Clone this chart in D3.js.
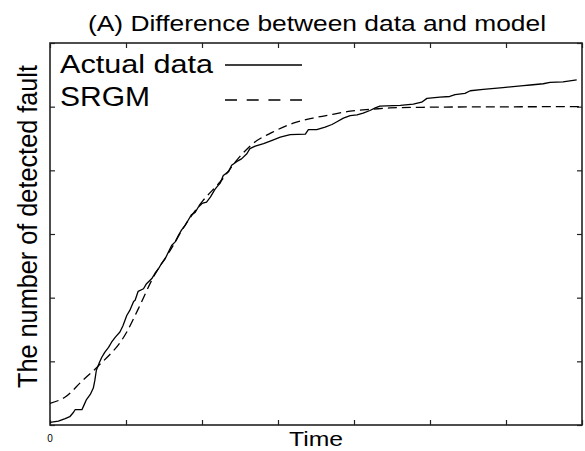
<!DOCTYPE html>
<html>
<head>
<meta charset="utf-8">
<script src="https://cdn.jsdelivr.net/npm/d3@7/dist/d3.min.js"></script>
<style>
  html, body { margin: 0; padding: 0; background: #fff; }
  svg { display: block; font-family: "Liberation Sans", Arial, sans-serif; }
</style>
</head>
<body>
<svg id="chart" width="585" height="451"></svg>
<script>
// Cumulative number of detected faults observed over time
const actualTime = [0, 1.1, 2.0, 2.6, 3.1, 3.3, 4.2, 4.5, 4.8, 5.3, 5.7, 5.9, 6.1, 6.5, 6.8, 7.2, 7.7, 8.1, 8.6, 9.2,
  9.6, 10.1, 10.5, 11.0, 11.2, 11.6, 12.3, 12.7, 13.4, 13.8, 14.3, 14.7, 15.1, 15.6, 16.0, 16.5, 16.9, 17.3, 17.8, 18.2,
  18.6, 19.1, 19.5, 20.0, 20.6, 21.1, 21.7, 22.1, 22.4, 22.8, 23.5, 23.9, 24.6, 25.2, 25.9, 26.3, 27.0, 28.1, 29.4, 30.3,
  31.6, 33.6, 34.0, 35.1, 36.2, 37.1, 37.7, 38.6, 39.5, 40.4, 41.2, 42.1, 42.8, 43.4, 46.1, 47.8, 48.9, 49.6, 51.3, 52.6,
  53.3, 54.6, 55.3, 57.0, 59.6, 62.3, 63.2, 64.9, 65.8, 67.5, 69.3];
const actualFaults = [2, 3, 5, 6.5, 10, 12, 12, 16, 20, 24, 29, 35, 43, 49, 53, 57, 61, 65, 69, 73,
  78, 86, 90, 97, 98, 105, 107, 111, 115, 119, 123, 127, 130, 136, 141, 144, 149, 153, 157, 161,
  165, 167, 171, 174, 175, 179, 185, 188, 190, 196, 199, 204, 207, 209, 213, 217, 219, 221, 224, 226,
  228, 228.5, 232, 232, 234, 236, 238, 241, 243, 243.5, 245, 247, 249, 250.5, 251, 252, 253.5, 256.5, 257.5, 258,
  259.5, 260.5, 262.5, 263.5, 265, 266.5, 267, 268, 269, 269.5, 271];

// Values given by the fitted software reliability growth model
const srgmTime = [0, 2.0, 4.3, 6.3, 10.1, 11.6, 13.5, 15.8, 18.0, 20.1, 22.4, 25.0, 26.7, 29.3, 32.0, 34.6,
  37.2, 39.5, 42.5, 44.7, 49.0, 55.7, 70];
const srgmFaults = [17, 22, 35, 46, 73, 91, 115, 137, 159, 176, 191, 211, 221, 230, 237, 241,
  244, 246.5, 248, 249, 249.5, 249.8, 250];

const xTicks = [0, 10, 20, 30, 40, 50, 60, 70];
const yTicks = [0, 50, 100, 150, 200, 250, 300];

const titleText = "(A) Difference between data and model";
const xLabel = "Time";
const yLabel = "The number of detected fault";
const legendNames = ["Actual data", "SRGM"];

const svg = d3.select("#chart");
const m = { left: 50, right: 3, top: 43, bottom: 26 };
const W = 585, H = 451;

const x = d3.scaleLinear().domain([0, 70]).range([m.left, W - m.right]);
const y = d3.scaleLinear().domain([0, 300]).range([H - m.bottom, m.top]);

const ink = "#000";
const frame = "#222";

// inward ticks on all four sides
const tickLen = 5;
const axB = d3.axisBottom(x).tickValues(xTicks).tickSize(-tickLen).tickFormat("");
const axT = d3.axisTop(x).tickValues(xTicks).tickSize(-tickLen).tickFormat("");
const axL = d3.axisLeft(y).tickValues(yTicks).tickSize(-tickLen).tickFormat("");
const axR = d3.axisRight(y).tickValues(yTicks).tickSize(-tickLen).tickFormat("");

function styleAxis(g) {
  g.select(".domain").remove();
  g.selectAll(".tick line").attr("stroke", frame).attr("stroke-width", 1.2);
}
svg.append("g").attr("transform", `translate(0,${y(0)})`).call(axB).call(styleAxis);
svg.append("g").attr("transform", `translate(0,${y(300)})`).call(axT).call(styleAxis);
svg.append("g").attr("transform", `translate(${x(0)},0)`).call(axL).call(styleAxis);
svg.append("g").attr("transform", `translate(${x(70)},0)`).call(axR).call(styleAxis);

// plot frame
svg.append("rect")
  .attr("x", x(0)).attr("y", y(300))
  .attr("width", x(70) - x(0)).attr("height", y(0) - y(300))
  .attr("fill", "none").attr("stroke", frame).attr("stroke-width", 1.6);

// curves
const actual = actualTime.map((t, i) => [t, actualFaults[i]]);
const srgm = srgmTime.map((t, i) => [t, srgmFaults[i]]);

svg.append("path")
  .datum(srgm)
  .attr("fill", "none").attr("stroke", ink).attr("stroke-width", 1.3)
  .attr("stroke-dasharray", "9,5")
  .attr("d", d3.line().x(d => x(d[0])).y(d => y(d[1])).curve(d3.curveMonotoneX));

svg.append("path")
  .datum(actual)
  .attr("fill", "none").attr("stroke", ink).attr("stroke-width", 1.3)
  .attr("stroke-linejoin", "round")
  .attr("d", d3.line().x(d => x(d[0])).y(d => y(d[1])));

// tick label at the origin
svg.append("text")
  .attr("x", x(0)).attr("y", 442)
  .attr("text-anchor", "middle")
  .attr("font-size", 10).attr("fill", ink)
  .text(String(xTicks[0]));

// title and axis labels
svg.append("text")
  .attr("x", 317).attr("y", 30.5)
  .attr("text-anchor", "middle")
  .attr("font-size", 21.5)
  .attr("textLength", 458).attr("lengthAdjust", "spacingAndGlyphs")
  .attr("fill", ink)
  .text(titleText);

svg.append("text")
  .attr("x", 316).attr("y", 446)
  .attr("text-anchor", "middle")
  .attr("font-size", 21)
  .attr("textLength", 54).attr("lengthAdjust", "spacingAndGlyphs")
  .attr("fill", ink)
  .text(xLabel);

svg.append("text")
  .attr("transform", `translate(37,${(65 + 388) / 2}) rotate(-90)`)
  .attr("text-anchor", "middle")
  .attr("font-size", 27)
  .attr("textLength", 323).attr("lengthAdjust", "spacingAndGlyphs")
  .attr("fill", ink)
  .text(yLabel);

// legend
const legend = svg.append("g");
const legendRows = [
  { name: legendNames[0], base: 73, len: 153, size: 25.5, dash: null, lineY: 65 },
  { name: legendNames[1], base: 106, len: 90, size: 27, dash: "12,9.7", lineY: 100 }
];
legendRows.forEach(r => {
  legend.append("text")
    .attr("x", 60).attr("y", r.base)
    .attr("font-size", r.size)
    .attr("textLength", r.len).attr("lengthAdjust", "spacingAndGlyphs")
    .attr("fill", ink)
    .text(r.name);
  legend.append("line")
    .attr("x1", 225).attr("x2", 302)
    .attr("y1", r.lineY).attr("y2", r.lineY)
    .attr("stroke", ink).attr("stroke-width", 1.3)
    .attr("stroke-dasharray", r.dash);
});
</script>
</body>
</html>
